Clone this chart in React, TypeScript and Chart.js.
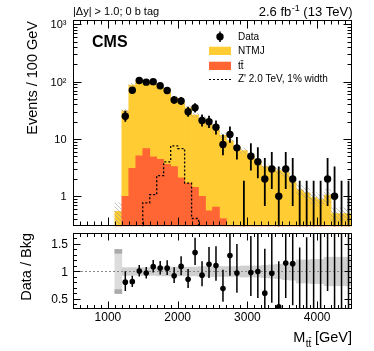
import React, { useEffect, useRef } from "react";
import { Chart, registerables } from "chart.js";

Chart.register(...registerables);

// ---------------- data ----------------
const binEdges = [1100, 1200, 1300, 1400, 1500, 1600, 1700, 1800, 1900, 2000, 2100, 2200, 2300, 2400, 2500, 2600, 2700, 2800, 2900, 3000, 3100, 3200, 3300, 3400, 3500, 3600, 3700, 3800, 3900, 4000, 4100, 4200, 4300, 4400, 4500];
// observed events per 100 GeV bin (null: no data in this bin)
const dataCounts: (number | null)[] = [null, 25, 71, 105, 98, 100, 85, 70, 48, 46, 30, 35, 21, 20, 16, 8, 12, 7, 0, 5, 4, 2, 3, 1, 3, 2, 0, 0, 0, 0, 2, 1, 0, 0];
const ntmj = [0.55, 30, 84, 99, 94, 87, 75.6, 62.4, 48.7, 40, 33.3, 24.6, 21.5, 17.1, 13.8, 11.2, 9.3, 7.2, 6.3, 5.1, 4.0, 3.3, 3.1, 2.8, 2.6, 1.75, 1.3, 1.15, 0.95, 0.88, 1.05, 0.5, 0.5, 0.5];
const ttbar = [0, 1.0, 3.07, 5.1, 6.8, 4.9, 4.4, 3.6, 3.3, 2.1, 1.7, 1.43, 1.0, 0.56, 0.65, 0.41, 0, 0, 0, 0, 0, 0, 0, 0, 0, 0, 0, 0, 0, 0, 0, 0, 0, 0];
const zprime = [0, 0, 0, 0, 0.77, 1.07, 2.3, 4.0, 7.6, 6.8, 1.7, 0.41, 0, 0, 0, 0, 0, 0, 0, 0, 0, 0, 0, 0, 0, 0, 0, 0, 0, 0, 0, 0, 0, 0];
const bkgRelUnc = [0.4, 0.07, 0.07, 0.07, 0.07, 0.07, 0.08, 0.08, 0.08, 0.08, 0.08, 0.08, 0.09, 0.09, 0.09, 0.09, 0.09, 0.09, 0.1, 0.1, 0.1, 0.11, 0.12, 0.13, 0.15, 0.16, 0.21, 0.21, 0.22, 0.22, 0.26, 0.26, 0.26, 0.26];

const xTickValues = [1000, 2000, 3000, 4000];
const xTickLabels = ["1000", "2000", "3000", "4000"];
const yTickValues = [1, 10, 100, 1000];
const yTickLabels = ["1", "10", "10\u00B2", "10\u00B3"];
const rTickValues = [0.5, 1, 1.5];
const rTickLabels = ["0.5", "1", "1.5"];

// ---------------- style ----------------
const FONT = "'Liberation Sans', Arial, Helvetica, sans-serif";
const X_MIN = 500, X_MAX = 4500;
const Y_MIN = 0.31, Y_MAX = 1190;
const R_MIN = 0.318, R_MAX = 1.7;
const YELLOW = "#ffcc33";
const RED = "#ff6633";

const centers = binEdges.slice(0, -1).map((e, i) => (e + binEdges[i + 1]) / 2);
const bkgTotal = ntmj.map((v, i) => v + ttbar[i]);
const poissonLow = (n: number) => (n > 0 ? n - Math.sqrt(n - 0.25) : 0);
const poissonHigh = (n: number) => n + Math.sqrt(n + 0.75) + 1;

function range(a: number, b: number, s: number) {
  const out: number[] = [];
  for (let v = a; v <= b + 1e-9; v += s) out.push(Math.round(v * 1000) / 1000);
  return out;
}

function drawFrameTicks(chart: any, xMaj: number[], xMin: number[], yMaj: number[], yMin: number[], xl: [number, number], yl: [number, number]) {
  const { ctx, chartArea: a, scales } = chart;
  const xs = scales.x, ys = scales.y;
  ctx.save();
  ctx.strokeStyle = "#000";
  ctx.lineWidth = 1;
  const L = Math.round(a.left) + 0.5, R = Math.round(a.right) - 0.5;
  const T = Math.round(a.top) + 0.5, B = Math.round(a.bottom) - 0.5;
  ctx.beginPath();
  const xt = (v: number, len: number) => {
    const p = Math.round(xs.getPixelForValue(v)) + 0.5;
    if (p < L || p > R) return;
    ctx.moveTo(p, B); ctx.lineTo(p, B - len);
    ctx.moveTo(p, T); ctx.lineTo(p, T + len);
  };
  const yt = (v: number, len: number) => {
    const p = Math.round(ys.getPixelForValue(v)) + 0.5;
    if (p < T || p > B) return;
    ctx.moveTo(L, p); ctx.lineTo(L + len, p);
    ctx.moveTo(R, p); ctx.lineTo(R - len, p);
  };
  xMin.forEach((v) => xt(v, xl[1]));
  xMaj.forEach((v) => xt(v, xl[0]));
  yMin.forEach((v) => yt(v, yl[1]));
  yMaj.forEach((v) => yt(v, yl[0]));
  ctx.stroke();
  ctx.strokeRect(L, T, R - L, B - T);
  ctx.restore();
}

function makeHatch(ctx: CanvasRenderingContext2D) {
  const c = document.createElement("canvas");
  c.width = 4; c.height = 4;
  const g = c.getContext("2d")!;
  g.strokeStyle = "rgba(150,150,150,0.55)";
  g.lineWidth = 1;
  g.beginPath();
  g.moveTo(0, 0); g.lineTo(4, 4);
  g.moveTo(-1, 3); g.lineTo(1, 5);
  g.moveTo(3, -1); g.lineTo(5, 1);
  g.stroke();
  return ctx.createPattern(c, "repeat");
}

const mainPlugin = {
  id: "mainDeco",
  afterDatasetsDraw(chart: any) {
    const { ctx, chartArea: a, scales } = chart;
    const xs = scales.x, ys = scales.y;
    ctx.save();
    ctx.beginPath();
    ctx.rect(a.left, a.top, a.right - a.left, a.bottom - a.top);
    ctx.clip();
    ctx.strokeStyle = "#000";
    ctx.lineWidth = 1.8;
    ctx.beginPath();
    centers.forEach((x, i) => {
      const n = dataCounts[i];
      if (n == null) return;
      const px = xs.getPixelForValue(x);
      const lo = poissonLow(n);
      const yLo = lo > 0 ? ys.getPixelForValue(lo) : a.bottom + 2;
      const yHi = ys.getPixelForValue(poissonHigh(n));
      ctx.moveTo(px, yLo);
      ctx.lineTo(px, yHi);
    });
    ctx.stroke();
    ctx.restore();
  },
  afterDraw(chart: any) {
    const { ctx, chartArea: a, scales } = chart;
    const ys = scales.y;
    const yMinor: number[] = [];
    [0.1, 1, 10, 100, 1000].forEach((d) => { for (let m = 2; m <= 9; m++) { const v = d * m; if (v > Y_MIN && v < Y_MAX) yMinor.push(v); } });
    drawFrameTicks(chart, xTickValues, range(600, 4400, 100), yTickValues, yMinor, [8, 4], [8, 4]);

    ctx.save();
    ctx.fillStyle = "#000";
    // y tick labels
    ctx.font = `11px ${FONT}`;
    ctx.textAlign = "right";
    ctx.textBaseline = "middle";
    yTickValues.forEach((v, i) => ctx.fillText(yTickLabels[i], 66.5, ys.getPixelForValue(v) + 1));

    // y title
    ctx.save();
    ctx.translate(36.5, a.top + 1);
    ctx.rotate(-Math.PI / 2);
    ctx.textAlign = "right";
    ctx.textBaseline = "alphabetic";
    ctx.font = `14.5px ${FONT}`;
    ctx.fillText("Events / 100 GeV", 0, 0);
    ctx.restore();

    ctx.textBaseline = "alphabetic";
    // top-left selection text
    ctx.textAlign = "left";
    ctx.font = `11px ${FONT}`;
    ctx.fillText("|\u0394y| > 1.0; 0 b tag", 73, 15);

    // lumi text, right aligned
    ctx.font = `13px ${FONT}`;
    const p3 = " (13 TeV)";
    const w3 = ctx.measureText(p3).width;
    ctx.font = `9px ${FONT}`;
    const p2 = "-1";
    const w2 = ctx.measureText(p2).width;
    ctx.font = `13px ${FONT}`;
    const p1 = "2.6 fb";
    const w1 = ctx.measureText(p1).width;
    let x0 = a.right - w1 - w2 - w3;
    ctx.fillText(p1, x0, 16);
    ctx.font = `9px ${FONT}`;
    ctx.fillText(p2, x0 + w1 + 0.5, 10.5);
    ctx.font = `13px ${FONT}`;
    ctx.fillText(p3, x0 + w1 + w2 + 0.5, 16);

    // CMS
    ctx.font = `bold 16px ${FONT}`;
    ctx.fillText("CMS", 92, 47);

    // legend
    const lx = 209, lw = 22, tx = 238;
    ctx.font = `10px ${FONT}`;
    ctx.textBaseline = "middle";
    // data
    ctx.beginPath();
    ctx.arc(lx + lw / 2, 36.7, 3.7, 0, Math.PI * 2);
    ctx.fill();
    ctx.lineWidth = 1.5;
    ctx.strokeStyle = "#000";
    ctx.beginPath();
    ctx.moveTo(lx + lw / 2, 31.5); ctx.lineTo(lx + lw / 2, 42);
    ctx.stroke();
    ctx.fillText("Data", tx, 37);
    ctx.fillStyle = YELLOW;
    ctx.fillRect(lx, 46.7, lw, 8.3);
    ctx.fillStyle = RED;
    ctx.fillRect(lx, 61.7, lw, 8.3);
    ctx.fillStyle = "#000";
    ctx.fillText("NTMJ", tx, 51.3);
    ctx.fillText("tt\u0304", tx, 66);
    ctx.setLineDash([2, 2]);
    ctx.lineWidth = 1.2;
    ctx.beginPath();
    ctx.moveTo(lx, 79.5); ctx.lineTo(lx + lw, 79.5);
    ctx.stroke();
    ctx.setLineDash([]);
    ctx.fillText("Z' 2.0 TeV, 1% width", tx, 79.5);
    ctx.restore();
  },
};

const ratioPlugin = {
  id: "ratioDeco",
  beforeDatasetDraw(chart: any, args: any) {
    if (args.index !== 0) return;
    const { ctx, chartArea: a, scales } = chart;
    const p = Math.round(scales.y.getPixelForValue(1)) + 0.5;
    ctx.save();
    ctx.strokeStyle = "#888";
    ctx.lineWidth = 1;
    ctx.setLineDash([2, 2]);
    ctx.beginPath();
    ctx.moveTo(a.left, p); ctx.lineTo(a.right, p);
    ctx.stroke();
    ctx.restore();
  },
  afterDatasetsDraw(chart: any) {
    const { ctx, chartArea: a, scales } = chart;
    const xs = scales.x, ys = scales.y;
    ctx.save();
    ctx.beginPath();
    ctx.rect(a.left, a.top, a.right - a.left, a.bottom - a.top);
    ctx.clip();
    ctx.strokeStyle = "#000";
    ctx.lineWidth = 1.5;
    ctx.beginPath();
    centers.forEach((x, i) => {
      const n = dataCounts[i];
      if (n == null) return;
      const b = bkgTotal[i];
      const px = xs.getPixelForValue(x);
      ctx.moveTo(px, ys.getPixelForValue(poissonLow(n) / b));
      ctx.lineTo(px, ys.getPixelForValue(poissonHigh(n) / b));
    });
    ctx.stroke();
    ctx.restore();
  },
  afterDraw(chart: any) {
    const { ctx, chartArea: a, scales } = chart;
    const xs = scales.x, ys = scales.y;
    drawFrameTicks(chart, xTickValues, range(600, 4400, 100), rTickValues, range(0.4, 1.7, 0.1), [7, 3.5], [7, 3.5]);
    ctx.save();
    ctx.fillStyle = "#000";
    ctx.font = `12px ${FONT}`;
    ctx.textAlign = "right";
    ctx.textBaseline = "middle";
    rTickValues.forEach((v, i) => ctx.fillText(rTickLabels[i], 68, ys.getPixelForValue(v) + 1));
    ctx.textAlign = "center";
    ctx.textBaseline = "alphabetic";
    xTickValues.forEach((v, i) => ctx.fillText(xTickLabels[i], xs.getPixelForValue(v), a.bottom + 12));

    // y title
    ctx.save();
    ctx.translate(30.5, a.top);
    ctx.rotate(-Math.PI / 2);
    ctx.textAlign = "right";
    ctx.font = `14.5px ${FONT}`;
    ctx.fillText("Data / Bkg", 0, 0);
    ctx.restore();

    // x title: M_{tt} [GeV], right aligned
    ctx.textAlign = "left";
    const base = a.bottom + 32.5;
    ctx.font = `14.5px ${FONT}`;
    const t3 = " [GeV]";
    const w3 = ctx.measureText(t3).width;
    const t1 = "M";
    const w1 = ctx.measureText(t1).width;
    ctx.font = `10px ${FONT}`;
    const t2 = "tt\u0304";
    const w2 = ctx.measureText(t2).width;
    const x0 = a.right - w1 - w2 - w3;
    ctx.font = `14.5px ${FONT}`;
    ctx.fillText(t1, x0, base);
    ctx.fillText(t3, x0 + w1 + w2, base);
    ctx.font = `10px ${FONT}`;
    ctx.fillText(t2, x0 + w1 + 0.5, base + 5);
    ctx.restore();
  },
};

export default function App() {
  const mainRef = useRef<HTMLCanvasElement>(null);
  const ratioRef = useRef<HTMLCanvasElement>(null);

  useEffect(() => {
    const mc = mainRef.current!;
    const hatch = makeHatch(mc.getContext("2d")!);
    const barCommon = { barPercentage: 1, categoryPercentage: 1, borderWidth: 0 };
    const xScale = { type: "linear", min: X_MIN, max: X_MAX, display: false, offset: false, grid: { offset: false } };
    const main = new Chart(mc, {
      type: "bar",
      data: {
        datasets: [
          {
            type: "line",
            label: "Data",
            data: centers.map((x, i) => ({ x, y: dataCounts[i] != null && (dataCounts[i] as number) > 0 ? dataCounts[i] : null })),
            showLine: false,
            pointRadius: 3.7,
            pointHoverRadius: 3.7,
            pointBackgroundColor: "#000",
            pointBorderWidth: 0,
            borderColor: "#000",
            order: 0,
            stack: "data",
          } as any,
          {
            type: "line",
            label: "Z' 2.0 TeV, 1% width",
            data: binEdges.map((x, i) => ({ x, y: i < zprime.length && zprime[i] > 0 ? zprime[i] : 1e-3 })),
            stepped: "before",
            borderColor: "#000",
            borderWidth: 1.3,
            borderDash: [2, 2],
            pointRadius: 0,
            fill: false,
            order: 1,
            stack: "sig",
          } as any,
          {
            type: "bar",
            label: "bkg unc",
            data: centers.map((x, i) => ({ x, y: [bkgTotal[i] * (1 - bkgRelUnc[i]), bkgTotal[i] * (1 + bkgRelUnc[i])] })),
            backgroundColor: hatch,
            grouped: false,
            order: 2,
            stack: "unc",
            ...barCommon,
          } as any,
          {
            type: "bar",
            label: "tt",
            data: centers.map((x, i) => ({ x, y: ttbar[i] })),
            backgroundColor: RED,
            order: 3,
            stack: "bkg",
            ...barCommon,
          } as any,
          {
            type: "bar",
            label: "NTMJ",
            data: centers.map((x, i) => ({ x, y: ntmj[i] })),
            backgroundColor: YELLOW,
            order: 4,
            stack: "bkg",
            ...barCommon,
          } as any,
        ],
      },
      options: {
        responsive: false,
        animation: false,
        events: [],
        layout: { padding: { left: 73, right: 22, top: 20, bottom: 2 } },
        scales: {
          x: xScale,
          y: { type: "logarithmic", min: Y_MIN, max: Y_MAX, display: false, stacked: true },
        },
        plugins: { legend: { display: false }, tooltip: { enabled: false } },
      } as any,
      plugins: [mainPlugin],
    });

    const ratio = new Chart(ratioRef.current!, {
      type: "bar",
      data: {
        datasets: [
          {
            type: "line",
            label: "Data / Bkg",
            data: centers.map((x, i) => ({ x, y: dataCounts[i] != null && (dataCounts[i] as number) > 0 ? (dataCounts[i] as number) / bkgTotal[i] : null })),
            showLine: false,
            pointRadius: 2.8,
            pointHoverRadius: 2.8,
            pointBackgroundColor: "#000",
            pointBorderWidth: 0,
            order: 0,
          } as any,
          {
            type: "bar",
            label: "edge hi",
            data: [{ x: centers[0], y: [1 + bkgRelUnc[0] - 0.07, 1 + bkgRelUnc[0]] }],
            backgroundColor: "#aaaaaa",
            grouped: false,
            order: 1,
            ...barCommon,
          } as any,
          {
            type: "bar",
            label: "edge lo",
            data: [{ x: centers[0], y: [1 - bkgRelUnc[0], 1 - bkgRelUnc[0] + 0.07] }],
            backgroundColor: "#aaaaaa",
            grouped: false,
            order: 1,
            ...barCommon,
          } as any,
          {
            type: "bar",
            label: "Bkg unc",
            data: centers.map((x, i) => ({ x, y: [1 - bkgRelUnc[i], 1 + bkgRelUnc[i]] })),
            backgroundColor: centers.map((_, i) => (i === 0 ? "#dcdcdc" : "#d0d0d0")),
            grouped: false,
            order: 2,
            ...barCommon,
          } as any,
        ],
      },
      options: {
        responsive: false,
        animation: false,
        events: [],
        layout: { padding: { left: 73, right: 22, top: 3, bottom: 42 } },
        scales: {
          x: xScale,
          y: { type: "linear", min: R_MIN, max: R_MAX, display: false },
        },
        plugins: { legend: { display: false }, tooltip: { enabled: false } },
      } as any,
      plugins: [ratioPlugin],
    });

    return () => {
      main.destroy();
      ratio.destroy();
    };
  }, []);

  return (
    <div style={{ position: "absolute", left: 0, top: 0, width: 374, height: 351, background: "#fff" }}>
      <canvas ref={mainRef} width={374} height={230} style={{ position: "absolute", left: 0, top: 0, width: 374, height: 230 }} />
      <canvas ref={ratioRef} width={374} height={121} style={{ position: "absolute", left: 0, top: 230, width: 374, height: 121 }} />
    </div>
  );
}
